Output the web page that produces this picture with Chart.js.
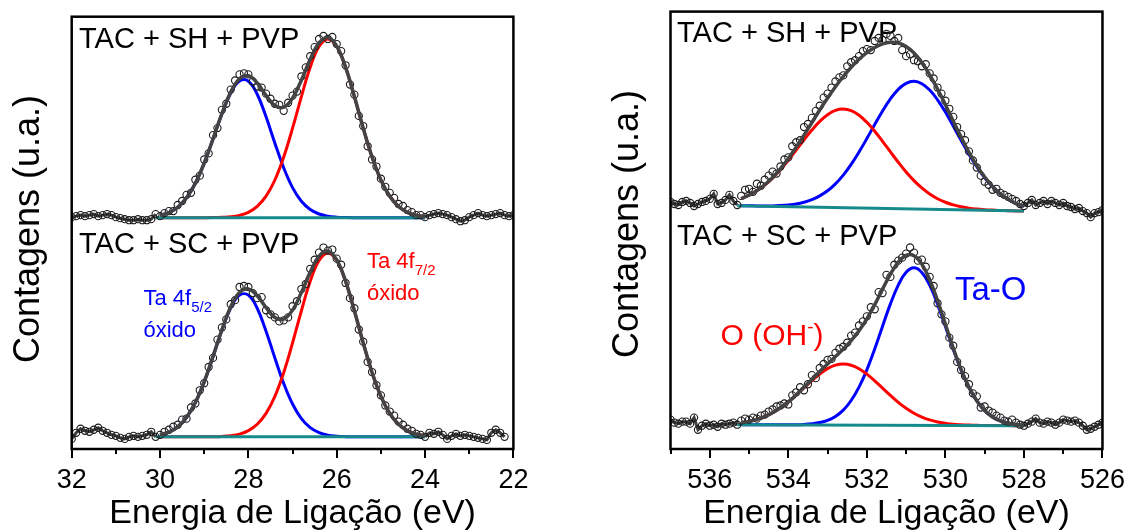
<!DOCTYPE html>
<html>
<head>
<meta charset="utf-8">
<script src="https://cdn.jsdelivr.net/npm/chart.js@4.4.0/dist/chart.umd.min.js"></script>
<style>
  html, body { margin: 0; padding: 0; background: #fff; }
  #wrap { position: relative; width: 1140px; height: 531px; }
  .panel { position: absolute; top: 0; width: 570px; height: 531px; }
</style>
</head>
<body>
<div id="wrap">
  <div class="panel" style="left:0"><canvas id="ta4f" width="570" height="531"></canvas></div>
  <div class="panel" style="left:570px"><canvas id="o1s" width="570" height="531"></canvas></div>
</div>
<script>
// ---- Ta 4f (left panel) ----
// measured spectra, one value every 0.1 eV
const taTopCounts = [229, 230, 231, 230, 231, 232, 230, 231, 232, 231, 229, 228, 227, 226, 226, 227, 226, 226, 227, 232, 230,
  233, 235, 235, 241, 245, 251, 253, 266, 270, 286, 292, 310, 317, 335, 341, 355, 364, 370, 371, 370,
  363, 358, 357, 351, 346, 341, 340, 334, 342, 349, 353, 368, 377, 388, 397, 405, 408, 405, 407, 400,
  393, 379, 360, 350, 329, 319, 299, 286, 279, 267, 259, 253, 248, 242, 240, 236, 234, 231, 231, 229,
  231, 232, 233, 232, 231, 229, 227, 225, 226, 229, 231, 233, 231, 230, 231, 232, 233, 231, 230, 231];
const taBotCounts = [10, 16, 20, 18, 17, 19, 21, 18, 16, 14, 13, 11, 10, 12, 13, 12, 13, 14, 17, 12, 14,
  17, 19, 22, 24, 29, 30, 41, 45, 58, 65, 81, 90, 108, 120, 128, 143, 147, 160, 161, 160,
  154, 149, 150, 137, 133, 130, 126, 127, 130, 141, 146, 158, 163, 178, 187, 194, 199, 196, 197, 188,
  182, 164, 149, 139, 118, 106, 86, 76, 63, 53, 43, 37, 33, 27, 24, 20, 18, 15, 14, 12,
  16, 15, 17, 14, 10, 13, 15, 13, 14, 13, 12, 11, 10, 9, 16, 19, 16, 12];
// fitted components, one value every 0.2 eV from 30.0 to 24.0
const taTopBlue = [230.7, 233.5, 238.8, 248.1, 262.5, 282.4, 306.3, 330.9, 351.6, 363.4, 363.3, 350.4, 328.1, 302.1, 277.7, 258.2,
  244.7, 236.5, 232.1, 229.9, 229.0, 228.7, 228.5, 228.5, 228.5, 228.5, 228.5, 228.5, 228.5, 228.5, 228.5];
const taTopRed = [228.5, 228.5, 228.5, 228.5, 228.5, 228.5, 228.6, 228.9, 229.4, 230.8, 233.8, 239.6, 249.7, 265.7, 288.4, 316.9,
  348.1, 377.0, 397.5, 405.0, 397.5, 377.0, 348.1, 316.9, 288.4, 265.7, 249.7, 239.6, 233.8, 230.8, 229.4];
const taTopEnv = [230.7, 233.5, 238.8, 248.1, 262.5, 282.4, 306.4, 331.3, 352.5, 365.7, 368.6, 361.5, 349.3, 339.3, 337.6, 346.6,
  364.3, 385.0, 401.1, 406.4, 398.0, 377.2, 348.1, 316.9, 288.4, 265.7, 249.7, 239.6, 233.8, 230.8, 229.4];
const taBotBlue = [14.0, 16.6, 21.9, 31.2, 45.9, 66.3, 91.4, 117.4, 139.4, 152.0, 152.0, 139.0, 116.4, 89.9, 64.7, 44.4,
  30.0, 21.1, 16.2, 13.7, 12.7, 12.2, 12, 12, 12, 12, 12, 12, 12, 12, 12];
const taBotRed = [12, 12, 12, 12, 12, 12, 12.1, 12.4, 13.1, 14.7, 18.1, 24.4, 35.2, 52.0, 75.6, 104.8,
  136.5, 165.6, 186.2, 193.7, 186.2, 165.6, 136.5, 104.8, 75.6, 52.0, 35.2, 24.4, 18.1, 14.7, 13.1];
const taBotEnv = [14.0, 16.6, 21.9, 31.2, 45.9, 66.3, 91.5, 117.8, 140.5, 154.7, 158.1, 151.4, 139.6, 129.9, 128.3, 137.2,
  154.5, 174.7, 190.4, 195.4, 186.9, 165.8, 136.5, 104.8, 75.6, 52.0, 35.2, 24.4, 18.1, 14.7, 13.1];
const taBaseE = [30.1, 24.0];
const taTopBase = [228.5, 228.5];
const taBotBase = [12, 12];

// ---- O 1s (right panel) ----
const oTopCounts = [244, 242, 241, 244, 245, 243, 240, 242, 244, 245, 247, 252, 242, 243, 246, 251, 245, 241,
  250, 256, 257, 254, 262, 260, 266, 270, 274, 272, 279, 286, 288, 299, 303, 305, 318, 321, 327, 334,
  339, 347, 351, 357, 363, 367, 369, 378, 382, 384, 388, 393, 395, 394, 403, 406, 404, 410, 408, 403,
  406, 394, 388, 390, 384, 383, 378, 380, 371, 366, 357, 351, 344, 336, 328, 318, 311, 305, 294, 285,
  278, 270, 264, 261, 256, 257, 253, 251, 249, 247, 245, 242, 240,
  243, 246, 241, 243, 245, 242, 245, 243, 241, 243, 240, 239, 237, 238, 235, 233, 229, 233, 234, 236];
const oBotCounts = [29, 26, 25, 27, 27, 25, 31, 19, 23, 25, 23, 24, 22, 25, 24, 25, 26, 24,
  28, 30, 29, 31, 30, 33, 34, 37, 39, 42, 43, 45, 44, 53, 56, 61, 58, 64, 73, 70,
  80, 84, 88, 89, 95, 99, 101, 105, 112, 115, 122, 126, 131, 140, 138, 155, 154, 172, 170, 182,
  186, 189, 193, 199, 194, 186, 187, 180, 170, 161, 144, 133, 126, 110, 102, 86, 78, 72, 64, 55,
  52, 41, 42, 38, 36, 33, 31, 28, 27, 29, 26, 24, 23,
  25, 27, 30, 26, 25, 27, 26, 24, 26, 29, 28, 27, 28, 26, 23, 19, 20, 22, 24, 26];
// fitted components, one value every 0.2 eV from 535.2 to 528.0
const oTopBlue = [240.2, 240.2, 240.1, 240.1, 240.1, 240.5, 241.1, 242.0, 243.7, 246.2, 250.0, 255.0, 261.9, 270.5, 281.1, 293.3,
  306.6, 320.5, 333.9, 345.8, 355.2, 361.1, 363.1, 360.8, 354.5, 344.9, 332.8, 319.0, 304.9, 291.2, 278.8, 267.9,
  259.0, 251.8, 246.5, 242.4, 239.6];
const oTopRed = [247.4, 250.7, 255.0, 260.7, 267.6, 275.9, 285.2, 295.2, 305.4, 315.0, 323.6, 330.2, 334.4, 335.7, 334.1, 329.7,
  322.7, 313.9, 303.9, 293.5, 283.2, 273.6, 265.1, 257.8, 251.8, 247.2, 243.7, 241.1, 239.3, 237.9, 237.0, 236.4,
  236.0, 235.6, 235.4, 235.1, 235.0];
const oTopEnv = [247.4, 250.8, 255.2, 261.0, 268.1, 276.9, 286.9, 298.0, 310.0, 322.3, 334.8, 346.6, 357.8, 367.9, 377.0, 384.9,
  391.4, 396.6, 400.2, 401.8, 401.0, 397.5, 391.1, 381.7, 369.6, 355.5, 340.0, 323.8, 308.0, 293.1, 279.9, 268.6,
  259.4, 252.0, 246.6, 242.4, 239.6];
const oBotBlue = [24.0, 23.9, 23.9, 23.9, 23.9, 23.9, 23.9, 24.0, 24.3, 24.9, 26.1, 28.3, 32.2, 38.4, 47.9, 61.1,
  78.2, 98.8, 121.3, 143.3, 161.9, 174.5, 179.0, 174.4, 161.8, 143.1, 121.1, 98.5, 77.9, 60.7, 47.5, 37.9,
  31.6, 27.7, 25.5, 24.2, 23.5];
const oBotRed = [26.1, 27.3, 29.3, 32.1, 35.8, 40.7, 46.4, 53.2, 60.4, 67.5, 74.1, 79.4, 82.8, 83.9, 82.7, 79.3,
  73.9, 67.3, 60.1, 52.9, 46.0, 40.2, 35.3, 31.5, 28.7, 26.7, 25.4, 24.4, 23.9, 23.6, 23.4, 23.2,
  23.1, 23.1, 23.1, 23.0, 23.0];
const oBotEnv = [26.1, 27.3, 29.3, 32.1, 35.8, 40.7, 46.5, 53.4, 60.9, 68.7, 76.5, 84.0, 91.3, 98.7, 107.0, 116.8,
  128.6, 142.6, 157.9, 172.7, 184.5, 191.3, 190.9, 182.6, 167.2, 146.5, 123.2, 99.7, 78.6, 61.1, 47.7, 38.0,
  31.6, 27.7, 25.5, 24.2, 23.5];
const oBaseE = [535.3, 528.0];
const oTopBase = [240.3, 235.0];
const oBotBase = [24.0, 23.0];

// energy sampling grids
function grid(from, to, step) {
  const out = [];
  const n = Math.round(Math.abs(from - to) / step);
  const s = from > to ? -step : step;
  for (let i = 0; i <= n; i++) out.push(Math.round((from + i * s) * 10) / 10);
  return out;
}
const taTopE = grid(32.0, 22.0, 0.1);
const taBotE = grid(32.0, 22.2, 0.1);
const taFitE = grid(30.0, 24.0, 0.2);
const oE = grid(537.0, 526.0, 0.1);
const oFitE = grid(535.2, 528.0, 0.2);

const FONT = "'Liberation Sans', Arial, sans-serif";
Chart.defaults.font.family = FONT;
Chart.defaults.color = '#000';

const pts = (xs, ys) => xs.map((x, i) => ({ x: x, y: ys[i] }));

function spectrum(E, counts, fitE, blue, red, env, baseE, base, lo, hi) {
  const inFit = v => v >= lo - 0.001 && v <= hi + 0.001;
  return [
    { data: pts(fitE, env), showLine: true, borderColor: '#434343', borderWidth: 3.5, pointRadius: 0, tension: 0.4, order: 0 },
    { data: pts(E, counts), showLine: true, borderColor: '#3c3c3c', borderWidth: 3,
      segment: { borderColor: c => (inFit(c.p0.parsed.x) && inFit(c.p1.parsed.x)) ? 'rgba(0,0,0,0)' : '#3c3c3c' },
      pointRadius: 3.6, pointBorderWidth: 1.1, pointBorderColor: '#1a1a1a', pointBackgroundColor: 'rgba(255,255,255,0)', order: 1 },
    { data: pts(baseE, base), showLine: true, borderColor: '#168a8a', borderWidth: 3, pointRadius: 0, order: 2 },
    { data: pts(fitE, red), showLine: true, borderColor: '#ff0000', borderWidth: 3, pointRadius: 0, tension: 0.4, order: 3 },
    { data: pts(fitE, blue), showLine: true, borderColor: '#0000ff', borderWidth: 3, pointRadius: 0, tension: 0.4, order: 4 }
  ];
}

const decor = {
  id: 'decor',
  beforeDatasetsDraw(chart, args, o) {
    const ctx = chart.ctx;
    ctx.save();
    ctx.textBaseline = 'alphabetic';
    ctx.textAlign = 'left';
    o.labels.forEach(l => {
      let x = l.x;
      ctx.fillStyle = l.color;
      l.parts.forEach(p => {
        ctx.font = p.size + 'px ' + FONT;
        ctx.fillText(p.t, x, l.y + (p.dy || 0));
        x += ctx.measureText(p.t).width;
      });
    });
    ctx.restore();
  },
  afterDraw(chart, args, o) {
    const ctx = chart.ctx, a = chart.chartArea, sx = chart.scales.x;
    ctx.save();
    ctx.strokeStyle = '#000';
    ctx.lineWidth = 2.5;
    ctx.strokeRect(a.left, a.top, a.right - a.left, a.bottom - a.top);
    // major ticks on even energies, minor ticks on odd ones
    ctx.lineWidth = 2;
    for (let v = Math.ceil(sx.min); v <= sx.max; v++) {
      const px = Math.round(sx.getPixelForValue(v));
      ctx.beginPath();
      ctx.moveTo(px, a.bottom);
      ctx.lineTo(px, a.bottom + (v % 2 === 0 ? 9 : 5));
      ctx.stroke();
    }
    ctx.fillStyle = '#000';
    ctx.textBaseline = 'alphabetic';
    ctx.textAlign = 'center';
    ctx.font = '34px ' + FONT;
    ctx.fillText('Energia de Ligação (eV)', (a.left + a.right) / 2, 523);
    ctx.translate(o.yTitleX, o.yTitleY);
    ctx.rotate(-Math.PI / 2);
    ctx.font = '36px ' + FONT;
    ctx.fillText('Contagens (u.a.)', 0, 0);
    ctx.restore();
  }
};

function makeChart(id, datasets, xmin, xmax, ymax, pad, labels, yTitleX, yTitleY) {
  return new Chart(document.getElementById(id), {
    type: 'scatter',
    data: { datasets: datasets },
    options: {
      responsive: false,
      animation: false,
      devicePixelRatio: 1,
      layout: { padding: pad },
      plugins: { legend: { display: false }, tooltip: { enabled: false }, decor: { labels: labels, yTitleX: yTitleX, yTitleY: yTitleY } },
      scales: {
        x: {
          type: 'linear', reverse: true, min: xmin, max: xmax,
          border: { display: false },
          grid: { display: false, drawTicks: false },
          ticks: { stepSize: 1, autoSkip: false, maxRotation: 0, padding: 15, font: { size: 27 },
            callback: v => (Math.round(v) % 2 === 0 ? String(v) : '') },
          afterFit: s => { s.height = 82; }
        },
        y: { display: false, min: 0, max: ymax }
      }
    },
    plugins: [decor]
  });
}

makeChart('ta4f',
  spectrum(taTopE, taTopCounts, taFitE, taTopBlue, taTopRed, taTopEnv, taBaseE, taTopBase, 24.0, 30.1)
    .concat(spectrum(taBotE, taBotCounts, taFitE, taBotBlue, taBotRed, taBotEnv, taBaseE, taBotBase, 24.0, 30.1)),
  22, 32, 427, { left: 71.7, right: 56.6, top: 16.7, bottom: 0 },
  [
    { parts: [{ t: 'TAC + SH + PVP', size: 29 }], x: 79, y: 48, color: '#000' },
    { parts: [{ t: 'TAC + SC + PVP', size: 29 }], x: 79, y: 252.5, color: '#000' },
    { parts: [{ t: 'Ta 4f', size: 22 }, { t: '5/2', size: 15, dy: 7 }], x: 143.5, y: 305, color: '#0000ff' },
    { parts: [{ t: 'óxido', size: 22 }], x: 143.5, y: 337, color: '#0000ff' },
    { parts: [{ t: 'Ta 4f', size: 22 }, { t: '7/2', size: 15, dy: 7 }], x: 367, y: 268, color: '#ff0000' },
    { parts: [{ t: 'óxido', size: 22 }], x: 367, y: 300, color: '#ff0000' }
  ], 39, 229);

makeChart('o1s',
  spectrum(oE, oTopCounts, oFitE, oTopBlue, oTopRed, oTopEnv, oBaseE, oTopBase, 528.0, 535.3)
    .concat(spectrum(oE, oBotCounts, oFitE, oBotBlue, oBotRed, oBotEnv, oBaseE, oBotBase, 528.0, 535.3)),
  526, 537, 432, { left: 100.5, right: 26, top: 11.6, bottom: 0 },
  [
    { parts: [{ t: 'TAC + SH + PVP', size: 29 }], x: 107, y: 42, color: '#000' },
    { parts: [{ t: 'TAC + SC + PVP', size: 29 }], x: 107, y: 244.5, color: '#000' },
    { parts: [{ t: 'Ta-O', size: 33 }], x: 385, y: 300, color: '#0000ff' },
    { parts: [{ t: 'O (OH', size: 30 }, { t: '-', size: 19, dy: -12 }, { t: ')', size: 30 }], x: 150.5, y: 345, color: '#ff0000' }
  ], 68, 224);
</script>
</body>
</html>
